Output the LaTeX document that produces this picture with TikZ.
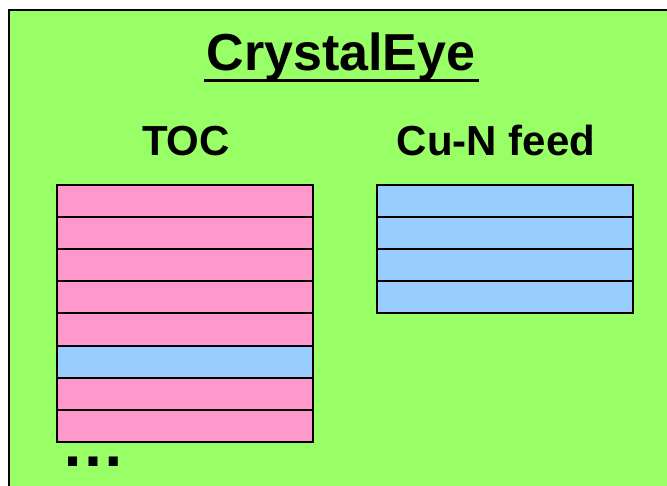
\documentclass[tikz,border=0pt]{standalone}
\usepackage{fontspec}
\setmainfont{Liberation Sans}
\begin{document}
\begin{tikzpicture}[x=1pt,y=-1pt,
  panel/.style={fill=panelgreen,draw=black,line width=2.5pt},
  row/.style={draw=black,line width=2pt},
  tocrow/.style={row,fill=tocpink},
  feedrow/.style={row,fill=feedblue},
  heading/.style={font=\bfseries\fontsize{42}{48}\selectfont,anchor=base,inner sep=0pt}]
\definecolor{panelgreen}{HTML}{99FF66}
\definecolor{tocpink}{HTML}{FF99CC}
\definecolor{feedblue}{HTML}{99CCFF}
\useasboundingbox (0,0) rectangle (667,485);
\fill[white] (0,0) rectangle (667,485);
\begin{scope}
  \clip (0,0) rectangle (667,485);
  \draw[panel] (9,10) rectangle (720,540);
\end{scope}
% title with underline
\node[heading,font=\bfseries\fontsize{52}{60}\selectfont] (title) at (341,70) {CrystalEye};
\coordinate (ulA) at (204,80);
\coordinate (ulB) at (479,80);
\draw[line width=3pt] (ulA) -- (ulB);
% column headings
\node[heading] (toc) at (186,155) {TOC};
\node[heading] (feed) at (496,155) {Cu-N feed};
% TOC entries
\foreach \i/\c in {0/tocrow,1/tocrow,2/tocrow,3/tocrow,4/tocrow,5/feedrow,6/tocrow,7/tocrow}{
  \draw[\c] (57,185+32.1*\i) rectangle (313,217.1+32.1*\i);
}
% feed entries
\foreach \i in {0,...,3}{
  \draw[feedrow] (377,185+32*\i) rectangle (633,217+32*\i);
}
\node[font=\bfseries\fontsize{64}{70}\selectfont,anchor=base west,inner sep=0pt] (more) at (61,466) {\char"2026};
\end{tikzpicture}
\end{document}
